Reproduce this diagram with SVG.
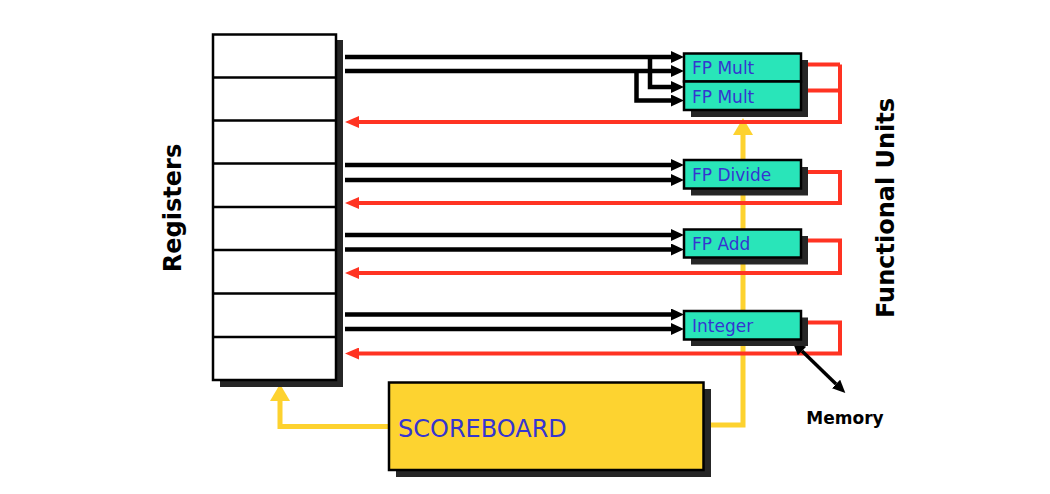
<svg xmlns="http://www.w3.org/2000/svg" width="1050" height="494" viewBox="0 0 1050 494">
<style>
.blk{fill:none;stroke:#000;stroke-width:4.5;marker-end:url(#ab)}
.red{fill:none;stroke:#ff3322;stroke-width:4;marker-end:url(#ar)}
.redn{fill:none;stroke:#ff3322;stroke-width:4}
.yel{fill:none;stroke:#fdd22f;stroke-width:5;marker-end:url(#ay)}
.sh{fill:#262626}
.reg{fill:#fff;stroke:#000;stroke-width:2.5}
.fu{fill:#29e5b9;stroke:#000;stroke-width:2.5}
.fut{font-family:"DejaVu Sans",sans-serif;font-size:17px;fill:#3535d0}
.lab{font-family:"DejaVu Sans",sans-serif;font-weight:bold;fill:#000}
</style>
<defs>
<marker id="ab" markerUnits="userSpaceOnUse" markerWidth="14" markerHeight="12" refX="0" refY="6" orient="auto"><path d="M0,0 L13,6 L0,12 z" fill="#000"/></marker>
<marker id="ar" markerUnits="userSpaceOnUse" markerWidth="15" markerHeight="12" refX="0" refY="6" orient="auto"><path d="M0,0 L14,6 L0,12 z" fill="#ff3322"/></marker>
<marker id="ay" markerUnits="userSpaceOnUse" markerWidth="18" markerHeight="22" refX="0" refY="10" orient="auto"><path d="M0,0 L17,10 L0,20 z" fill="#fdd22f"/></marker>
<marker id="am" markerUnits="userSpaceOnUse" markerWidth="14" markerHeight="12" refX="0" refY="6" orient="auto"><path d="M0,0 L13,6 L0,12 z" fill="#000"/></marker>
<marker id="amS" markerUnits="userSpaceOnUse" markerWidth="14" markerHeight="12" refX="13" refY="6" orient="auto"><path d="M13,0 L0,6 L13,12 z" fill="#000"/></marker>
</defs>

<g id="connectors">
  <path class="yel" d="M389,426.5 H280 V401"/>
  <path class="yel" d="M711,425 H743 V135"/>
  <path class="blk" d="M345,57 H671"/>
  <path class="blk" d="M345,71 H671"/>
  <path class="blk" d="M650,57 V87 H671"/>
  <path class="blk" d="M636.5,71 V100.5 H671"/>
  <path class="blk" d="M345,165 H671"/>
  <path class="blk" d="M345,180 H671"/>
  <path class="blk" d="M345,235 H671"/>
  <path class="blk" d="M345,249.5 H671"/>
  <path class="blk" d="M345,314.5 H671"/>
  <path class="blk" d="M345,329 H671"/>
  <path class="redn" d="M800,64.5 H840"/>
  <path class="red" d="M800,90.5 H840 V64.5 M840,90.5 V122 H359"/>
  <path class="red" d="M800,172 H840 V203 H359"/>
  <path class="red" d="M800,240.5 H840 V273 H359"/>
  <path class="red" d="M800,322.5 H840 V353.5 H359"/>
  <path d="M802,351 L836,384" fill="none" stroke="#000" stroke-width="3.5" marker-start="url(#amS)" marker-end="url(#am)"/>
</g>

<g id="registers">
  <rect class="sh" x="220" y="40" width="123" height="347"/>
  <rect class="reg" x="213" y="34.5" width="123" height="345.5"/>
  <path d="M213,77.5 H336 M213,120.5 H336 M213,163.5 H336 M213,207 H336 M213,250 H336 M213,293.5 H336 M213,337 H336" stroke="#000" stroke-width="2.5"/>
</g>
<g id="label-registers"><text class="lab" font-size="24" transform="translate(181,208) rotate(-90)" text-anchor="middle">Registers</text></g>

<g id="fu-mult1">
  <rect class="sh" x="691" y="60" width="117" height="57"/>
  <rect class="fu" x="684" y="53.5" width="117" height="28"/>
  <text class="fut" x="692" y="74">FP Mult</text>
</g>
<g id="fu-mult2">
  <rect class="fu" x="684" y="81.5" width="117" height="28.5"/>
  <text class="fut" x="692" y="102.5">FP Mult</text>
</g>
<g id="fu-divide">
  <rect class="sh" x="691" y="167" width="117" height="28.5"/>
  <rect class="fu" x="684" y="160" width="117" height="28.5"/>
  <text class="fut" x="692" y="181">FP Divide</text>
</g>
<g id="fu-add">
  <rect class="sh" x="691" y="236" width="117" height="28.5"/>
  <rect class="fu" x="684" y="229.5" width="117" height="28"/>
  <text class="fut" x="692" y="250">FP Add</text>
</g>
<g id="fu-integer">
  <rect class="sh" x="691" y="317.5" width="117" height="28.5"/>
  <rect class="fu" x="684" y="311" width="117" height="28.5"/>
  <text class="fut" x="692" y="332">Integer</text>
</g>
<g id="label-fu"><text class="lab" font-size="24" transform="translate(894,208) rotate(-90)" text-anchor="middle">Functional Units</text></g>

<g id="scoreboard">
  <rect class="sh" x="396" y="389" width="315" height="88"/>
  <rect x="389" y="382.5" width="314.5" height="87.5" fill="#fdd330" stroke="#000" stroke-width="2.5"/>
  <text x="398" y="437" font-family="'DejaVu Sans',sans-serif" font-size="24" fill="#3535d0">SCOREBOARD</text>
</g>
<g id="memory"><text class="lab" font-size="17" x="845" y="424" text-anchor="middle">Memory</text></g>
</svg>
